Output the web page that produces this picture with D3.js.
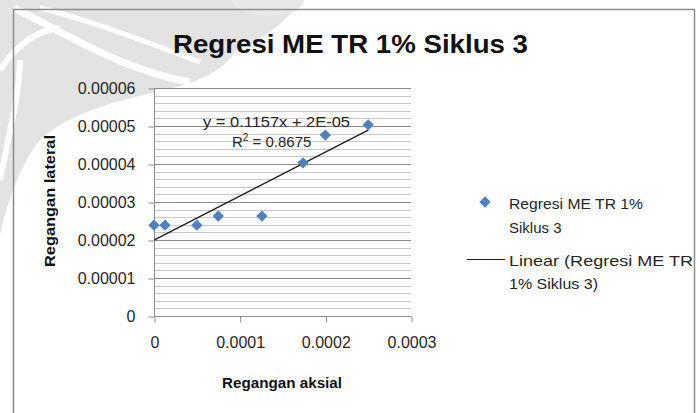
<!DOCTYPE html>
<html><head><meta charset="utf-8">
<script src="https://cdn.jsdelivr.net/npm/d3@7"></script>
<style>html,body{margin:0;padding:0;background:#fff;} svg{display:block;}</style>
</head><body>
<script>
// ---- data ----
const xValues = [0, 0.0000128, 0.0000500, 0.0000750, 0.0001260, 0.0001740, 0.0002000, 0.0002500];
const yValues = [0.0000239, 0.0000239, 0.0000239, 0.0000263, 0.0000263, 0.0000403, 0.0000476, 0.0000503];
const xTicks = [0, 0.0001, 0.0002, 0.0003];
const xTickLabels = ["0", "0.0001", "0.0002", "0.0003"];
const yTicks = [0, 0.00001, 0.00002, 0.00003, 0.00004, 0.00005, 0.00006];
const yTickLabels = ["0", "0.00001", "0.00002", "0.00003", "0.00004", "0.00005", "0.00006"];
const title = "Regresi ME TR 1% Siklus 3";
const xTitle = "Regangan aksial";
const yTitle = "Regangan lateral";
const eqText = "y = 0.1157x + 2E-05";
const r2Value = "0.8675";
const legendSeries = ["Regresi ME TR 1%", "Siklus 3"];
const legendTrend = ["Linear (Regresi ME TR", "1% Siklus 3)"];

const W = 700, H = 413;
const svg = d3.select("body").append("svg").attr("width", W).attr("height", H);
svg.append("rect").attr("width", W).attr("height", H).attr("fill", "#fff");

// watermark (decorative)
const wm = svg.append("g");
wm.append("path").attr("fill", "#e3e3e3")
  .attr("d", "M0,0 L300,0 C290,20 262,40 236,50 C225,70 200,82 165,90 C120,100 70,112 40,140 C20,165 8,200 0,235 Z");
wm.append("path").attr("fill", "none").attr("stroke", "#fff").attr("stroke-width", 7)
  .attr("d", "M14,8 C60,30 120,70 190,82");
wm.append("path").attr("fill", "none").attr("stroke", "#fff").attr("stroke-width", 5)
  .attr("d", "M40,8 C90,20 140,40 200,62");
wm.append("path").attr("fill", "none").attr("stroke", "#fff").attr("stroke-width", 6)
  .attr("d", "M0,70 C20,40 40,30 60,28 M0,180 C10,130 20,90 20,60");
wm.append("ellipse").attr("cx", 268).attr("cy", 0).attr("rx", 36).attr("ry", 16).attr("fill", "#e8e8e8");

// chart frame
svg.append("rect").attr("x", 13.5).attr("y", 9.5).attr("width", 681).attr("height", 430)
  .attr("fill", "none").attr("stroke", "#8c8c8c").attr("stroke-width", 1.5);

const x = d3.scaleLinear().domain([0, 0.0003]).range([154, 411]);
const y = d3.scaleLinear().domain([0, 0.00006]).range([316, 88]);

// plot area white
svg.append("rect").attr("x", 154).attr("y", 88).attr("width", 257).attr("height", 228).attr("fill", "#fff");

// minor gridlines
const minor = d3.range(0, 0.0000601, 0.000002).filter(v => Math.abs((v / 0.00001) - Math.round(v / 0.00001)) > 1e-6);
svg.append("g").selectAll("line").data(minor).join("line")
  .attr("x1", 154).attr("x2", 411)
  .attr("y1", d => Math.round(y(d)) + 0.5).attr("y2", d => Math.round(y(d)) + 0.5)
  .attr("stroke", "#c8c8c8").attr("stroke-width", 1);
// major gridlines
svg.append("g").selectAll("line").data(yTicks.slice(1)).join("line")
  .attr("x1", 154).attr("x2", 411)
  .attr("y1", d => Math.round(y(d)) + 0.5).attr("y2", d => Math.round(y(d)) + 0.5)
  .attr("stroke", "#8a8a8a").attr("stroke-width", 1);

// axes
const tickFont = "'Liberation Sans', Arial, sans-serif";
const yAxis = d3.axisLeft(y).tickValues(yTicks).tickFormat((d, i) => yTickLabels[i]).tickSize(6).tickPadding(13);
const gy = svg.append("g").attr("transform", "translate(154.5,0.5)").call(yAxis);
const xAxis = d3.axisBottom(x).tickValues(xTicks).tickFormat((d, i) => xTickLabels[i]).tickSize(6).tickPadding(14);
const gx = svg.append("g").attr("transform", "translate(0.5,316.5)").call(xAxis);
[gx, gy].forEach(g => {
  g.select(".domain").attr("stroke", "#8a8a8a").attr("stroke-width", 1);
  g.selectAll(".tick line").attr("stroke", "#8a8a8a");
  g.selectAll(".tick text").attr("font-family", tickFont).attr("font-size", 16).attr("fill", "#262626");
});
gx.select(".domain").attr("d", "M154,0H411");
gy.select(".domain").attr("d", "M0,316V88");

// trendline (least squares from data)
const n = xValues.length;
const mx = d3.mean(xValues), my = d3.mean(yValues);
let sxy = 0, sxx = 0;
for (let i = 0; i < n; i++) { sxy += (xValues[i] - mx) * (yValues[i] - my); sxx += (xValues[i] - mx) ** 2; }
const slope = sxy / sxx, intercept = my - slope * mx;
const x0 = d3.min(xValues), x1 = d3.max(xValues);
svg.append("line")
  .attr("x1", x(x0)).attr("y1", y(intercept + slope * x0))
  .attr("x2", x(x1)).attr("y2", y(intercept + slope * x1))
  .attr("stroke", "#1a1a1a").attr("stroke-width", 1.2);

// points
const diamond = d3.symbol().type(d3.symbolSquare).size(64);
svg.append("g").selectAll("path").data(xValues).join("path")
  .attr("d", diamond)
  .attr("transform", (d, i) => `translate(${x(d)},${y(yValues[i])}) rotate(45)`)
  .attr("fill", "#4f81bd");

// equation labels
svg.append("text").attr("x", 203).attr("y", 127).attr("font-family", tickFont).attr("font-size", 15)
  .attr("fill", "#262626").attr("textLength", 147).attr("lengthAdjust", "spacingAndGlyphs").text(eqText);
const r2 = svg.append("text").attr("x", 232).attr("y", 147).attr("font-family", tickFont).attr("font-size", 15)
  .attr("fill", "#262626");
r2.append("tspan").text("R");
r2.append("tspan").attr("font-size", 10).attr("dy", -6).text("2");
r2.append("tspan").attr("dy", 6).text(" = " + r2Value);

// title
svg.append("text").attr("x", 173).attr("y", 53).attr("font-family", tickFont).attr("font-weight", "bold")
  .attr("font-size", 26).attr("fill", "#111").attr("textLength", 355).attr("lengthAdjust", "spacingAndGlyphs").text(title);

// axis titles
svg.append("text").attr("x", 222).attr("y", 388).attr("font-family", tickFont).attr("font-weight", "bold")
  .attr("font-size", 14.5).attr("fill", "#111").attr("textLength", 120).attr("lengthAdjust", "spacingAndGlyphs").text(xTitle);
svg.append("text").attr("transform", "translate(55,267) rotate(-90)").attr("font-family", tickFont).attr("font-weight", "bold")
  .attr("font-size", 14.5).attr("fill", "#111").attr("textLength", 132).attr("lengthAdjust", "spacingAndGlyphs").text(yTitle);

// legend
const lg = svg.append("g");
lg.append("path").attr("d", diamond).attr("transform", "translate(485,202) rotate(45)").attr("fill", "#4f81bd");
lg.append("line").attr("x1", 467).attr("x2", 505).attr("y1", 259.5).attr("y2", 259.5).attr("stroke", "#1a1a1a").attr("stroke-width", 1.2);
const legLines = [
  {t: legendSeries[0], y: 209, w: 134},
  {t: legendSeries[1], y: 233, w: 0},
  {t: legendTrend[0], y: 266, w: 184},
  {t: legendTrend[1], y: 289, w: 89}
];
legLines.forEach(l => {
  const t = lg.append("text").attr("x", 509).attr("y", l.y).attr("font-family", tickFont).attr("font-size", 15)
    .attr("fill", "#262626").text(l.t);
  if (l.w) t.attr("textLength", l.w).attr("lengthAdjust", "spacingAndGlyphs");
});
</script>
</body></html>
